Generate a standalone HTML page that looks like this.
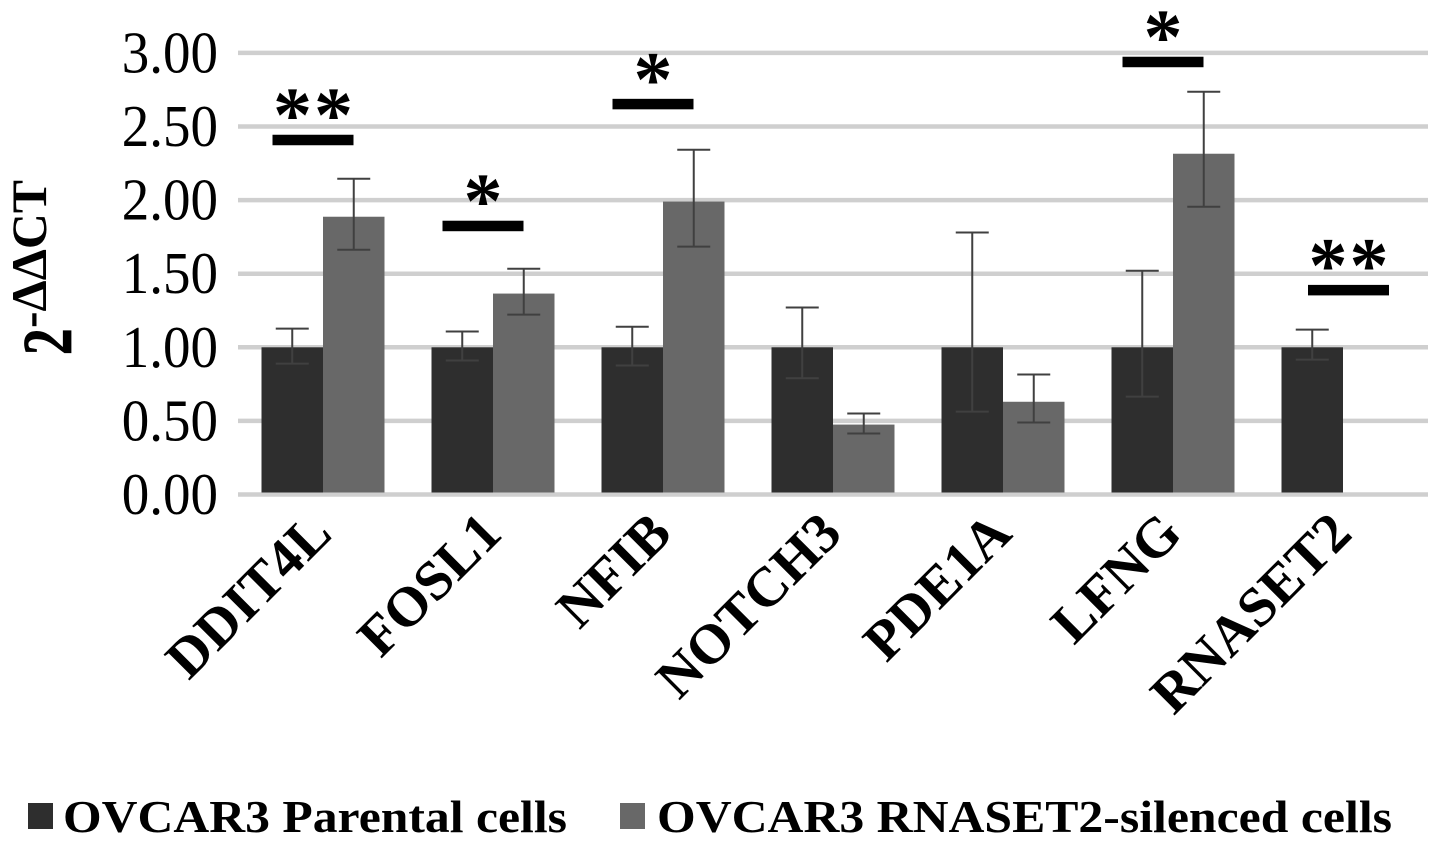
<!DOCTYPE html>
<html>
<head>
<meta charset="utf-8">
<title>Relative gene expression chart</title>
<style>
html,body{margin:0;padding:0;background:#fff;}
body{width:1441px;height:844px;overflow:hidden;}
svg{display:block;}
text{font-family:"Liberation Serif",serif;fill:#000;}
.b{font-weight:bold;}
</style>
</head>
<body>
<svg id="chart" width="1441" height="844" viewBox="0 0 1441 844" xmlns="http://www.w3.org/2000/svg">
  <g id="grid"></g>
  <g id="bars"></g>
  <g id="errors"></g>
  <g id="sig"></g>
  <g id="yticks"></g>
  <g id="xticks"></g>
  <g>
    <text class="b" transform="translate(71,355) rotate(-90) scale(0.76,1)" font-size="70" stroke="#000" stroke-width="0.8">2</text>
    <text class="b" transform="translate(46,328) rotate(-90)" font-size="50" textLength="148" lengthAdjust="spacingAndGlyphs">-ΔΔCT</text>
  </g>
  <g>
    <rect x="28" y="803" width="25" height="26" fill="#2e2e2e"/>
    <text class="b" x="63" y="832" font-size="46" textLength="504" lengthAdjust="spacingAndGlyphs">OVCAR3 Parental cells</text>
    <rect x="620" y="803" width="25" height="26" fill="#686868"/>
    <text class="b" x="657" y="832" font-size="46" textLength="735" lengthAdjust="spacingAndGlyphs">OVCAR3 RNASET2-silenced cells</text>
  </g>
</svg>
<script>
const categories = ["DDIT4L","FOSL1","NFIB","NOTCH3","PDE1A","LFNG","RNASET2"];
const parental = [1,1,1,1,1,1,1];
const silenced = [1.887,1.365,1.99,0.475,0.63,2.315,null];
const parentalHigh = [1.127,1.107,1.14,1.27,1.78,1.52,1.12];
const parentalLow = [0.889,0.91,0.876,0.79,0.563,0.665,0.916];
const silencedHigh = [2.145,1.534,2.342,0.55,0.815,2.736,null];
const silencedLow = [1.663,1.222,1.684,0.414,0.489,1.955,null];
const yTicks = ["0.00","0.50","1.00","1.50","2.00","2.50","3.00"];
const sigCategory = ["DDIT4L","FOSL1","NFIB","LFNG","RNASET2"];
const sigMark = ["**","*","*","*","**"];
const sigLevel = [2.41,1.826,2.654,2.94,1.39];

const NS = "http://www.w3.org/2000/svg";
function yScale(v){ return 494.5 - v * 147.2; }
function groupX(i){ return 323 + i * 170; }
const barW = 61.5;
function make(tag, parent, attrs){
  const el = document.createElementNS(NS, tag);
  for (const k in attrs) el.setAttribute(k, attrs[k]);
  parent.appendChild(el);
  return el;
}
const gGrid = document.getElementById("grid");
const gBars = document.getElementById("bars");
const gErr = document.getElementById("errors");
const gSig = document.getElementById("sig");
const gY = document.getElementById("yticks");
const gX = document.getElementById("xticks");

yTicks.forEach(function(t){
  const v = parseFloat(t);
  const line = make("line", gGrid, {x1:238, x2:1428, y1:yScale(v), y2:yScale(v), stroke:"#cfcfcf", "stroke-width":4.5});
  
  
  const label = make("text", gY, {"text-anchor":"end", "font-size":55,
    transform:"translate(218,"+(yScale(v)+19.5)+") scale(1,1.07)"});
  label.textContent = t;
  
  
});

function drawBar(value, x, fill){
  const rect = make("rect", gBars, {x:x, y:yScale(value), width:barW, height:yScale(0)-yScale(value)-2, fill:fill});
  
  
}
function drawError(cx, hi, lo){
  const path = make("path", gErr, {
    d:"M"+(cx-16.5)+" "+yScale(hi)+"H"+(cx+16.5)+"M"+cx+" "+yScale(hi)+"V"+yScale(lo)+"M"+(cx-16.5)+" "+yScale(lo)+"H"+(cx+16.5),
    fill:"none", stroke:"#404040", "stroke-width":2});
  
  
}
categories.forEach(function(c, i){
  const g = groupX(i);
  drawBar(parental[i], g-barW, "#2e2e2e");
  drawError(g-barW/2, parentalHigh[i], parentalLow[i]);
  if (silenced[i] !== null){
    drawBar(silenced[i], g, "#686868");
    drawError(g+barW/2, silencedHigh[i], silencedLow[i]);
  }
  const label = make("text", gX, {"text-anchor":"end", "font-size":56, "font-weight":"bold",
    transform:"translate("+(g+11)+",536) rotate(-45)"});
  label.textContent = c;
  
  
});

sigCategory.forEach(function(c, i){
  const idx = categories.indexOf(c);
  const cx = groupX(idx) + (silenced[idx] === null ? 5.5 : -10);
  const y = yScale(sigLevel[i]);
  const bar = make("rect", gSig, {x:cx-40.5, y:y-5, width:81, height:10.5, fill:"#000"});
  
  
  const star = make("text", gSig, {x:cx+1, y:y+1.5, "text-anchor":"middle", "font-size":78, "font-weight":"bold", "letter-spacing":"2"});
  star.textContent = sigMark[i];
  
  
});
</script>
</body>
</html>
